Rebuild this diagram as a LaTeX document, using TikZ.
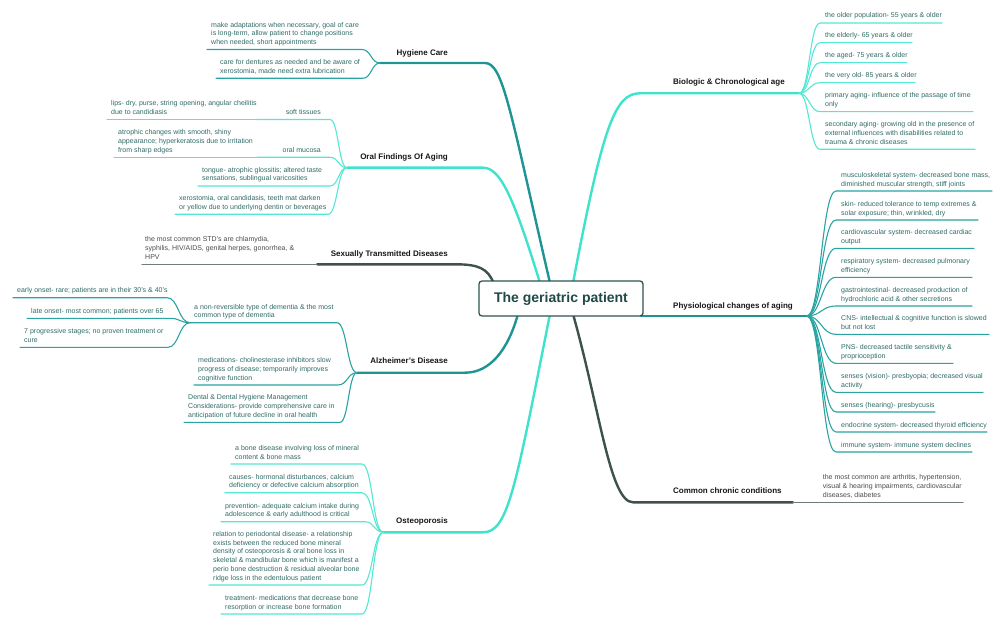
\documentclass[tikz,border=0pt]{standalone}
\usepackage{fontspec}
\setmainfont{Liberation Sans}
\usetikzlibrary{calc}
\definecolor{dtmain}{HTML}{1E9494}
\definecolor{dtleaf}{HTML}{2AA3A3}
\definecolor{tqmain}{HTML}{3FE3CC}
\definecolor{tqleaf}{HTML}{52E8D4}
\definecolor{grmain}{HTML}{3D524F}
\definecolor{grleaf}{HTML}{707D7B}
\definecolor{leaftext}{HTML}{2E6B66}
\definecolor{graytext}{HTML}{4B4B4B}
\definecolor{headc}{HTML}{161616}
\definecolor{titlec}{HTML}{1F4A47}
\definecolor{boxc}{HTML}{2C5451}
\tikzset{
  leaf/.style={anchor=base west, inner sep=0pt, align=left, font=\fontsize{7}{8.7}\selectfont},
  headL/.style={anchor=base east, inner sep=0pt, font=\fontsize{8}{9}\selectfont\bfseries, text=headc},
  headR/.style={anchor=base west, inner sep=0pt, font=\fontsize{8}{9}\selectfont\bfseries, text=headc},
  leafline/.style={line width=1.1pt, line cap=round},
  mainline/.style={line width=2.4pt, line cap=round},
  dtline/.style={draw=dtleaf}, dttext/.style={text=leaftext},
  tqline/.style={draw=tqleaf}, tqtext/.style={text=leaftext},
  grline/.style={draw=grleaf}, grtext/.style={text=graytext},
  scurve/.style={to path={let \p1=(\tikztostart), \p2=(\tikztotarget) in
     .. controls ({0.5*\x1+0.5*\x2},\y1) and ({0.5*\x1+0.5*\x2},\y2) .. (\tikztotarget)}}
}
% left leaf: name, branch, text x, underline y, lines, underline end x, junction, text
% (the base anchor of a multi-line node is the baseline of its last line)
\newcommand{\leafL}[8]{%
  \node[leaf,#2text] (#1) at (#3,{#4-5}) {#8};
  \coordinate (#1-a) at (#3-4,#4);
  \coordinate (#1-b) at (#6,#4);
  \draw[leafline,#2line] (#1-a) -- (#1-b) to[scurve] (#7);
}
\newcommand{\leafR}[8]{%
  \node[leaf,#2text] (#1) at (#3,{#4-5}) {#8};
  \coordinate (#1-a) at (#3-5,#4);
  \coordinate (#1-b) at (#6,#4);
  \draw[leafline,#2line] (#7) to[scurve] (#1-a) -- (#1-b);
}
\begin{document}
\begin{tikzpicture}[x=1pt,y=-1pt]
\useasboundingbox (0,0) rectangle (1005,623);

% ---------- junctions and attach points
\coordinate (hyg-j) at (380,63);
\coordinate (hyg-c) at (485,63);
\coordinate (c-hyg) at (550,283);
\coordinate (ora-j) at (347,167.7);
\coordinate (ora-c) at (483,167.7);
\coordinate (c-ora) at (540,283);
\coordinate (std-j) at (317,264.3);
\coordinate (std-c) at (455,264.3);
\coordinate (c-std) at (494,284);
\coordinate (alz-j) at (357,372.7);
\coordinate (alz-c) at (465,372.7);
\coordinate (c-alz) at (518,314);
\coordinate (ost-j) at (383.3,532.3);
\coordinate (ost-c) at (483,532.3);
\coordinate (c-ost) at (550,314);
\coordinate (bio-j) at (799,93.3);
\coordinate (bio-c) at (640,93.3);
\coordinate (c-bio) at (573,283);
\coordinate (phy-j) at (806.7,316);
\coordinate (c-phy) at (641,316);
\coordinate (ccc-j) at (793,502.3);
\coordinate (ccc-c) at (633,502.3);
\coordinate (c-ccc) at (573,314);

% ---------- main branches
\draw[mainline,draw=dtmain] (hyg-j) -- (hyg-c) .. controls (503,63) and (510,110) .. (c-hyg);
\draw[mainline,draw=tqmain] (ora-j) -- (ora-c) .. controls (500,167.7) and (513,195) .. (c-ora);
\draw[mainline,draw=grmain] (std-j) -- (std-c) .. controls (478,264.3) and (488,268) .. (c-std);
\draw[mainline,draw=dtmain] (alz-j) -- (alz-c) .. controls (490,372.7) and (508,350) .. (c-alz);
\draw[mainline,draw=tqmain] (ost-j) -- (ost-c) .. controls (508,532.3) and (515,490) .. (c-ost);
\draw[mainline,draw=tqmain] (c-bio) .. controls (603,125) and (615,93.3) .. (bio-c) -- (bio-j);
\draw[mainline,draw=dtmain] (c-phy) -- (phy-j);
\draw[mainline,draw=grmain] (c-ccc) .. controls (600,410) and (610,502.3) .. (ccc-c) -- (ccc-j);

% ---------- center
\node[draw=boxc, line width=1.3pt, rounded corners=3pt, fill=white,
      minimum width=164pt, minimum height=35pt, inner sep=0pt,
      font=\fontsize{14}{16}\selectfont\bfseries, text=titlec] (ctr) at (561,298.5) {The geriatric patient};

% ---------- headings
\node[headL] (hyg) at (448,55.5) {Hygiene Care};
\node[headL] (ora) at (448,159.5) {Oral Findings Of Aging};
\node[headL] (std) at (448,256) {Sexually Transmitted Diseases};
\node[headL] (alz) at (448,363.5) {Alzheimer's Disease};
\node[headL] (ost) at (448,523.5) {Osteoporosis};
\node[headR] (bio) at (673,85) {Biologic \& Chronological age};
\node[headR] (phy) at (673,308) {Physiological changes of aging};
\node[headR] (ccc) at (673,493.5) {Common chronic conditions};

% ---------- Hygiene Care
\leafL{h1}{dt}{211}{49.5}{3}{362}{hyg-j}{make adaptations when necessary, goal of care\\is long-term, allow patient to change positions\\when needed, short appointments}
\leafL{h2}{dt}{220}{78.3}{2}{363}{hyg-j}{care for dentures as needed and be aware of\\xerostomia, made need extra lubrication}

% ---------- Oral Findings
\node[leaf,anchor=base east,tqtext] (st) at (321,115) {soft tissues};
\coordinate (st-a) at (257,119.5);
\coordinate (st-b) at (330,119.5);
\draw[leafline,tqline] (st-a) -- (st-b) to[scurve] (ora-j);
\leafL{lips}{tq}{111}{119.5}{2}{257}{st-a}{lips- dry, purse, string opening, angular cheilitis\\due to candidiasis}
\node[leaf,anchor=base east,tqtext] (om) at (321,152.5) {oral mucosa};
\coordinate (om-a) at (257,157.3);
\coordinate (om-b) at (330,157.3);
\draw[leafline,tqline] (om-a) -- (om-b) to[scurve] (ora-j);
\leafL{muc}{tq}{118}{157.3}{3}{257}{om-a}{atrophic changes with smooth, shiny\\appearance; hyperkeratosis due to irritation\\from sharp edges}
\leafL{o3}{tq}{202}{186}{2}{330}{ora-j}{tongue- atrophic glossitis; altered taste\\sensations, sublingual varicosities}
\leafL{o4}{tq}{179}{214.3}{2}{328}{ora-j}{xerostomia, oral candidasis, teeth mat darken\\or yellow due to underlying dentin or beverages}

% ---------- STD
\node[leaf,grtext] (sd) at (145,259.3) {the most common STD's are chlamydia,\\syphilis, HIV/AIDS, genital herpes, gonorrhea, \&\\HPV};
\coordinate (sd-a) at (142,264.3);
\draw[leafline,grline] (sd-a) -- (std-j);

% ---------- Alzheimer's
\leafL{a1}{dt}{194}{322.7}{2}{337}{alz-j}{a non-reversible type of dementia \& the most\\common type of dementia}
\leafL{e1}{dt}{17}{297.7}{1}{167}{a1-a}{early onset- rare; patients are in their 30's \& 40's}
\leafL{e2}{dt}{31}{318.3}{1}{170}{a1-a}{late onset- most common; patients over 65}
\leafL{e3}{dt}{24}{347.3}{2}{168}{a1-a}{7 progressive stages; no proven treatment or\\cure}
\leafL{a2}{dt}{198}{385}{3}{338}{alz-j}{medications- cholinesterase inhibitors slow\\progress of disease; temporarily improves\\cognitive function}
\leafL{a3}{dt}{188}{422.3}{3}{340}{alz-j}{Dental \& Dental Hygiene Management\\Considerations- provide comprehensive care in\\anticipation of future decline in oral health}

% ---------- Osteoporosis
\leafL{s1}{tq}{235}{464}{2}{362}{ost-j}{a bone disease involving loss of mineral\\content \& bone mass}
\leafL{s2}{tq}{229}{492.7}{2}{362}{ost-j}{causes- hormonal disturbances, calcium\\deficiency or defective calcium absorption}
\leafL{s3}{tq}{225}{521.7}{2}{365}{ost-j}{prevention- adequate calcium intake during\\adolescence \& early adulthood is critical}
\leafL{s4}{tq}{213}{585}{6}{362}{ost-j}{relation to periodontal disease- a relationship\\exists between the reduced bone mineral\\density of osteoporosis \& oral bone loss in\\skeletal \& mandibular bone which is manifest a\\perio bone destruction \& residual alveolar bone\\ridge loss in the edentulous patient}
\leafL{s5}{tq}{225}{614}{2}{362}{ost-j}{treatment- medications that decrease bone\\resorption or increase bone formation}

% ---------- Biologic
\leafR{b1}{tq}{825}{23}{1}{942}{bio-j}{the older population- 55 years \& older}
\leafR{b2}{tq}{825}{42.7}{1}{912}{bio-j}{the elderly- 65 years \& older}
\leafR{b3}{tq}{825}{62.7}{1}{907}{bio-j}{the aged- 75 years \& older}
\leafR{b4}{tq}{825}{82.7}{1}{915}{bio-j}{the very old- 85 years \& older}
\leafR{b5}{tq}{825}{111.7}{2}{973}{bio-j}{primary aging- influence of the passage of time\\only}
\leafR{b6}{tq}{825}{149.3}{3}{975}{bio-j}{secondary aging- growing old in the presence of\\external influences with disabilities related to\\trauma \& chronic diseases}

% ---------- Physiological
\leafR{p1}{dt}{841}{191}{2}{992}{phy-j}{musculoskeletal system- decreased bone mass,\\diminished muscular strength, stiff joints}
\leafR{p2}{dt}{841}{220}{2}{978}{phy-j}{skin- reduced tolerance to temp extremes \&\\solar exposure; thin, wrinkled, dry}
\leafR{p3}{dt}{841}{248.3}{2}{974}{phy-j}{cardiovascular system- decreased cardiac\\output}
\leafR{p4}{dt}{841}{277.3}{2}{972}{phy-j}{respiratory system- decreased pulmonary\\efficiency}
\leafR{p5}{dt}{841}{306}{2}{972}{phy-j}{gastrointestinal- decreased production of\\hydrochloric acid \& other secretions}
\leafR{p6}{dt}{841}{334.3}{2}{989}{phy-j}{CNS- intellectual \& cognitive function is slowed\\but not lost}
\leafR{p7}{dt}{841}{363.3}{2}{953}{phy-j}{PNS- decreased tactile sensitivity \&\\proprioception}
\leafR{p8}{dt}{841}{392.3}{2}{983}{phy-j}{senses (vision)- presbyopia; decreased visual\\activity}
\leafR{p9}{dt}{841}{412}{1}{935}{phy-j}{senses (hearing)- presbycusis}
\leafR{p10}{dt}{841}{432}{1}{987}{phy-j}{endocrine system- decreased thyroid efficiency}
\leafR{p11}{dt}{841}{452}{1}{972}{phy-j}{immune system- immune system declines}

% ---------- Common chronic
\node[leaf,grtext] (cc) at (822.7,497.3) {the most common are arthritis, hypertension,\\visual \& hearing impairments, cardiovascular\\diseases, diabetes};
\coordinate (cc-b) at (963,502.3);
\draw[leafline,grline] (ccc-j) -- (cc-b);
\end{tikzpicture}
\end{document}
